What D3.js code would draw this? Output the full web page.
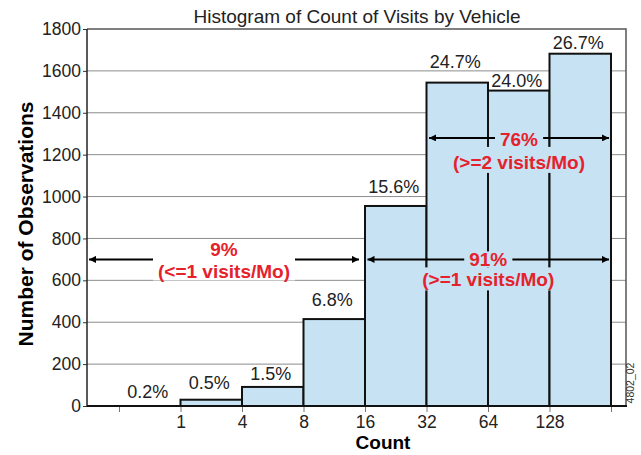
<!DOCTYPE html>
<html>
<head>
<meta charset="utf-8">
<script src="https://cdn.jsdelivr.net/npm/d3@7"></script>
<style>
  body { margin: 0; background: #fff; }
  svg { display: block; font-family: "Liberation Sans", Arial, sans-serif; }
</style>
</head>
<body>
<div id="chart"></div>
<script>
// bin edges along the x axis (first and last edge are unlabeled)
const edgeLabels = ["", "1", "4", "8", "16", "32", "64", "128", ""];
// number of observations in each bin
const binCounts = [0, 30, 91, 415, 955, 1544, 1506, 1682];
const binPercents = ["0.2%", "0.5%", "1.5%", "6.8%", "15.6%", "24.7%", "24.0%", "26.7%"];
const yTicks = [0, 200, 400, 600, 800, 1000, 1200, 1400, 1600, 1800];

// range annotations (from / to are bin edges, null = start of axis)
const spanTitles = ["9%", "91%", "76%"];
const spanNotes = ["(<=1 visits/Mo)", "(>=1 visits/Mo)", "(>=2 visits/Mo)"];
const spanFrom = [null, 4, 5];
const spanTo = [4, 8, 8];
const spanLevel = [700, 700, 1280];

// layout
const W = 641, H = 455;
const frameLeft = 87, frameRight = 626;
const labelGap = [8, 11, 7, 13, 13, 15, 4, 5];   // px between bar top and its % label
const spanTextDy = [[-3, 19], [7, 27], [8, 31]];  // baselines of the two note lines vs arrow
const barFill = "#c6e2f3";
const red = "#e5212b";

const svg = d3.select("#chart").append("svg")
    .attr("width", W)
    .attr("height", H);

svg.append("defs").append("marker")
    .attr("id", "head")
    .attr("viewBox", "0 0 10 10")
    .attr("refX", 10)
    .attr("refY", 5)
    .attr("markerUnits", "userSpaceOnUse")
    .attr("markerWidth", 11)
    .attr("markerHeight", 7)
    .attr("orient", "auto-start-reverse")
  .append("path")
    .attr("d", "M0,0L10,5L0,10z")
    .attr("fill", "#000");

const x = d3.scaleLinear().domain([0, binCounts.length]).range([119, 611]);
const y = d3.scaleLinear().domain([0, 1800]).range([406, 29]);

// title
svg.append("text")
    .attr("x", 357)
    .attr("y", 23)
    .attr("text-anchor", "middle")
    .style("font-size", "19px")
    .attr("fill", "#222")
    .text("Histogram of Count of Visits by Vehicle");

// gridlines
svg.append("g").selectAll("line")
    .data(yTicks.filter(d => d > 0 && d < 1800))
    .enter()
    .append("line")
    .attr("x1", frameLeft)
    .attr("x2", frameRight)
    .attr("y1", d => y(d))
    .attr("y2", d => y(d))
    .attr("stroke", "#8c8c8c")
    .attr("stroke-width", 1);

// bars
svg.append("g").selectAll("rect")
    .data(binCounts)
    .enter()
    .append("rect")
    .attr("x", (d, i) => x(i))
    .attr("y", d => y(d))
    .attr("width", (d, i) => x(i + 1) - x(i))
    .attr("height", d => y(0) - y(d))
    .attr("fill", barFill)
    .attr("stroke", "#111")
    .attr("stroke-width", 2);

// frame top and right
svg.append("path")
    .attr("d", `M${frameLeft},${y(1800)}H${frameRight}V${y(0)}`)
    .attr("fill", "none")
    .attr("stroke", "#555")
    .attr("stroke-width", 1.5);

// y axis
const yAxis = d3.axisLeft(y).tickValues(yTicks).tickFormat(d3.format("d")).tickSize(4).tickPadding(2);
const gy = svg.append("g")
    .attr("transform", `translate(${frameLeft},0)`)
    .call(yAxis);
gy.select(".domain").remove();
gy.selectAll("line").attr("stroke", "#333");
gy.selectAll("text").style("font-size", "17.5px").attr("fill", "#222");

// x axis
const xAxis = d3.axisBottom(x)
    .tickValues(d3.range(edgeLabels.length))
    .tickFormat(i => edgeLabels[i])
    .tickSize(6)
    .tickPadding(4);
const gx = svg.append("g")
    .attr("transform", `translate(0,${y(0)})`)
    .call(xAxis);
gx.select(".domain").remove();
gx.selectAll("line").attr("stroke", "#777");
gx.selectAll("text").style("font-size", "17.5px").attr("fill", "#222");

// axis lines
svg.append("line")
    .attr("x1", frameLeft).attr("x2", frameLeft)
    .attr("y1", y(1800)).attr("y2", y(0) + 1)
    .attr("stroke", "#222").attr("stroke-width", 1.5);
svg.append("line")
    .attr("x1", frameLeft).attr("x2", frameRight + 1)
    .attr("y1", y(0)).attr("y2", y(0))
    .attr("stroke", "#111").attr("stroke-width", 2);

// axis titles
svg.append("text")
    .attr("x", 383)
    .attr("y", 449)
    .attr("text-anchor", "middle")
    .style("font-size", "19px")
    .style("font-weight", "bold")
    .text("Count");

svg.append("text")
    .attr("transform", "translate(33,224) rotate(-90)")
    .attr("text-anchor", "middle")
    .style("font-size", "21px")
    .style("font-weight", "bold")
    .text("Number of Observations");

// percent labels
svg.append("g").selectAll("text")
    .data(binPercents)
    .enter()
    .append("text")
    .attr("x", (d, i) => (x(i) + x(i + 1)) / 2 - 2)
    .attr("y", (d, i) => y(binCounts[i]) - labelGap[i])
    .attr("text-anchor", "middle")
    .style("font-size", "18px")
    .attr("fill", "#222")
    .text(d => d);

// range arrows with notes
spanTitles.forEach((title, i) => {
    const x0 = spanFrom[i] === null ? frameLeft + 1 : x(spanFrom[i]) + 1.5;
    const x1 = spanTo[i] === 8 ? x(spanTo[i]) - 1 : x(spanTo[i]) - 5;
    const ay = y(spanLevel[i]);
    const cx = (x0 + x1) / 2;
    const bgColor = spanFrom[i] === null ? "#fff" : barFill;
    const base1 = ay + spanTextDy[i][0];
    const base2 = ay + spanTextDy[i][1];

    svg.append("line")
        .attr("x1", x0 + 1).attr("x2", x1 - 1)
        .attr("y1", ay).attr("y2", ay)
        .attr("stroke", "#000")
        .attr("stroke-width", 2)
        .attr("marker-start", "url(#head)")
        .attr("marker-end", "url(#head)");

    const bg1 = svg.append("rect");
    const bg2 = svg.append("rect");
    const t1 = svg.append("text")
        .attr("x", cx)
        .attr("y", base1)
        .attr("text-anchor", "middle")
        .style("font-size", "19px")
        .style("font-weight", "bold")
        .attr("fill", red)
        .text(title);
    const t2 = svg.append("text")
        .attr("x", cx)
        .attr("y", base2)
        .attr("text-anchor", "middle")
        .style("font-size", "19px")
        .style("font-weight", "bold")
        .attr("fill", red)
        .text(spanNotes[i]);

    const b1 = t1.node().getBBox();
    const b2 = t2.node().getBBox();
    bg1.attr("x", b1.x - 5)
        .attr("y", base1 - 15)
        .attr("width", b1.width + 10)
        .attr("height", 16)
        .attr("fill", bgColor);
    const top2 = base1 + 1;
    const bottom2 = base2 + (spanFrom[i] === null ? 2 : 4);
    bg2.attr("x", b2.x - 5)
        .attr("y", top2)
        .attr("width", b2.width + 10)
        .attr("height", bottom2 - top2)
        .attr("fill", bgColor);
});

// figure id
svg.append("text")
    .attr("transform", "translate(634,383) rotate(-90)")
    .attr("text-anchor", "middle")
    .style("font-size", "10.5px")
    .attr("fill", "#333")
    .text("4802_02");
</script>
</body>
</html>
